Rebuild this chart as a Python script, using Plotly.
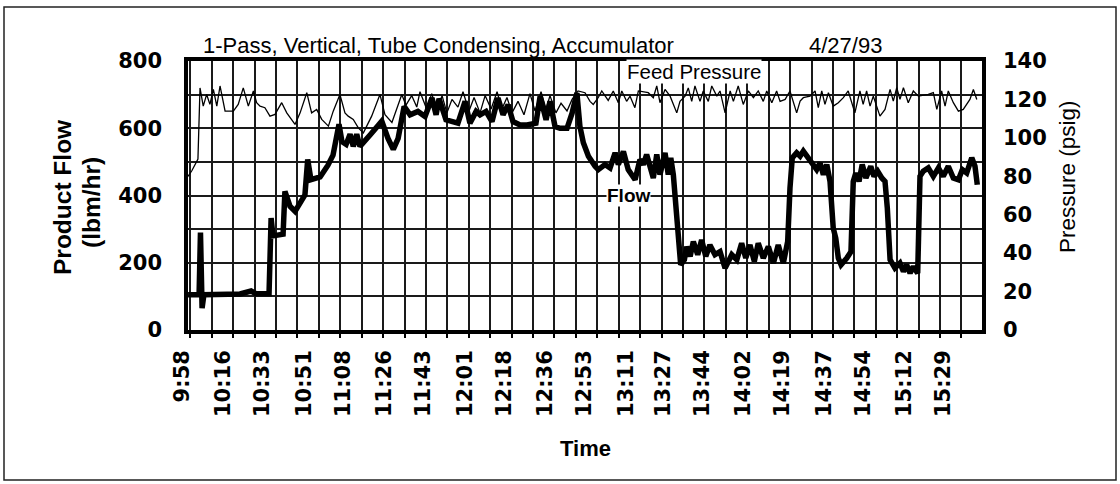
import plotly.graph_objects as go

# ---------------- data ----------------
time_labels = ["9:58", "10:16", "10:33", "10:51", "11:08", "11:26", "11:43", "12:01",
               "12:18", "12:36", "12:53", "13:11", "13:27", "13:44", "14:02", "14:19",
               "14:37", "14:54", "15:12", "15:29"]

# minutes after 9:58
flow_minutes = [2.8, 7.6, 8.2, 8.9, 9.7, 25.4, 30.2, 32.3, 38.0, 38.9, 39.7, 44.1, 44.9, 47.1,
                49.3, 53.6, 54.8, 56.2, 60.2, 63.6, 65.8, 68.4, 69.7, 71.5, 73.2, 74.6, 76.1,
                77.5, 81.9, 87.0, 89.7, 92.0, 94.1, 95.4, 96.7, 99.3, 102.7, 105.8, 108.8,
                110.6, 111.9, 114.9, 117.5, 120.1, 123.2, 125.3, 128.0, 129.7, 132.3, 134.9,
                137.5, 139.7, 141.9, 144.0, 147.1, 150.1, 154.0, 155.8, 158.4, 160.1, 162.3,
                164.5, 167.5, 169.7, 171.8, 173.1, 174.6, 176.8, 179.7, 181.1, 184.0, 186.2,
                188.4, 189.8, 192.0, 194.1, 197.1, 199.2, 200.7, 202.1, 205.0, 206.5, 207.9,
                210.1, 211.5, 212.6, 213.7, 215.2, 216.2, 216.9, 218.5, 219.5, 221.0, 222.4,
                224.3, 226.0, 227.8, 229.6, 231.8, 234.0, 236.2, 239.1, 241.3, 243.4, 245.2,
                247.0, 248.9, 250.6, 252.8, 255.0, 257.2, 259.3, 261.5, 263.4, 264.4, 265.4,
                267.3, 268.8, 270.2, 271.7, 273.8, 276.0, 277.5, 278.9, 280.4, 281.8, 283.2,
                284.3, 285.4, 286.6, 289.1, 290.9, 291.9, 293.0, 294.4, 295.8, 297.4, 299.5,
                300.9, 302.5, 304.3, 305.7, 306.7, 307.9, 310.0, 312.2, 313.7, 315.1, 316.6,
                318.0, 319.9, 320.9, 322.3, 324.5, 326.7, 328.9, 331.0, 333.2, 335.4, 337.6,
                339.3, 341.2, 343.4, 344.8, 345.8]
flow_lbm_hr = [105, 105, 290, 65, 105, 107, 116, 108, 108, 333, 280, 285, 412, 368,
               353, 402, 507, 447, 455, 490, 520, 612, 560, 552, 582, 546, 582,
               546, 580, 621, 570, 537, 570, 620, 665, 640, 650, 635, 690,
               640, 688, 625, 620, 615, 680, 615, 650, 640, 650, 620,
               690, 640, 670, 620, 610, 610, 615, 695, 625, 680, 605,
               600, 600, 645, 705, 606, 557, 517, 487, 477, 492, 482,
               527, 492, 531, 477, 447, 507, 492, 522, 452, 522, 462,
               527, 462, 512, 462, 343, 233, 194, 209, 248, 219, 263,
               224, 268, 219, 253, 224, 233, 184, 224, 209, 258, 214,
               253, 204, 258, 214, 248, 199, 253, 199, 263, 422, 512,
               527, 517, 532, 517, 502, 477, 497, 462, 492, 442, 303,
               273, 214, 194, 214, 233, 442, 467, 442, 492, 452, 487,
               457, 472, 452, 442, 363, 209, 184, 199, 174, 194, 169,
               189, 169, 457, 472, 482, 457, 482, 457, 487, 452, 447,
               477, 467, 512, 487, 432]

pressure_minutes = [2.8, 4.5, 7.1, 8.0, 9.4, 10.9, 12.3, 13.8, 15.3, 16.7, 18.9, 22.5, 24.6,
                    26.8, 29.0, 31.2, 32.6, 34.1, 36.2, 38.4, 40.6, 43.5, 45.7, 49.3, 51.5,
                    54.4, 56.5, 58.7, 60.9, 63.8, 65.9, 68.8, 71.0, 72.4, 74.6, 76.8, 79.0,
                    82.6, 86.2, 88.4, 91.4, 95.7, 97.5, 100.0, 102.2, 103.6, 106.5, 108.7,
                    111.0, 113.2, 115.3, 117.5, 120.1, 122.3, 124.9, 127.1, 129.7, 131.9,
                    134.5, 137.1, 139.2, 141.4, 143.6, 146.2, 148.8, 151.4, 153.6, 156.2,
                    158.4, 160.1, 162.7, 164.9, 167.5, 169.7, 172.3, 175.3, 177.5, 178.9,
                    181.1, 182.6, 185.4, 187.6, 189.8, 191.3, 193.4, 194.9, 197.0, 198.5,
                    202.8, 205.0, 206.5, 207.9, 210.1, 212.3, 215.2, 216.6, 218.8, 220.2,
                    221.7, 223.1, 225.3, 226.7, 228.9, 230.4, 232.6, 234.0, 236.2, 238.4,
                    239.8, 241.9, 244.1, 246.3, 248.5, 250.6, 252.8, 254.3, 256.5, 258.6,
                    260.1, 262.3, 264.4, 265.8, 267.3, 268.8, 270.2, 273.1, 275.3, 276.7,
                    278.2, 279.6, 281.1, 283.2, 285.4, 287.6, 289.7, 292.6, 294.8, 296.2,
                    297.7, 299.2, 300.6, 303.5, 305.7, 307.9, 309.3, 310.8, 312.2, 313.7,
                    315.8, 318.0, 320.2, 324.5, 326.7, 328.2, 330.3, 331.8, 333.2, 335.4,
                    337.6, 339.7, 342.6, 344.1, 345.6]
pressure_psig = [80, 83, 89, 126, 116.5, 122.6, 117.4, 125.2, 116.5, 127, 113.9, 113.9, 117.4,
                 126, 116.5, 124.4, 118.3, 116.5, 115.7, 111.3, 112.2, 118.3, 113.0, 107.0, 113.0,
                 123.5, 113.0, 114.8, 109.6, 106.1, 113.9, 122.6, 113.0, 111.3, 109.6, 105.2, 102.6,
                 111.3, 122.6, 112, 108, 122.6, 117, 122, 116, 124, 115, 123,
                 114, 122, 113, 120, 116, 124, 114, 121, 113, 122,
                 115, 124, 115, 121, 113, 119, 112, 123, 114, 124,
                 115, 122, 113, 118, 114, 120, 124.4, 123.5, 119, 117.4,
                 121, 124.4, 119.5, 124.4, 118.3, 124.4, 119, 121.7, 115.7, 124.4,
                 123.5, 120.9, 127, 118.3, 125.2, 121.7, 113.0, 119, 121.7, 126,
                 119, 127, 119, 124.4, 119, 127, 121.7, 124.4, 113.0, 124.4,
                 119, 127, 117.4, 124.4, 120.9, 124.4, 119, 124.4, 118.3, 124.4,
                 119, 120, 124.4, 118.3, 113.0, 119.1, 120.9, 121.7, 124.4, 115.7,
                 124.4, 117.4, 123.5, 116.5, 118.3, 120.9, 124.4, 113.0, 124.4, 117.4,
                 124.4, 116.5, 121.7, 111.3, 114.8, 125.2, 119.1, 126.1, 120.0, 126.1,
                 118.3, 124.4, 121.7, 122.6, 123.5, 114.8, 124.4, 116.5, 124.4, 118.3,
                 113.9, 114.8, 120, 125.2, 120]

# ---------------- layout constants ----------------
W, H = 1120, 484
ML, MR, MT, MB = 188, 138, 61, 154
PW, PH = W - ML - MR, H - MT - MB
X_RANGE = [2.78, 347.85]
PX_PER_MIN = PW / (X_RANGE[1] - X_RANGE[0])
LABEL_OFFSET_MIN = 4.0
GRID0, GRID_STEP = 13.08, 9.31


def to_minutes(lbl):
    h, m = lbl.split(":")
    return int(h) * 60 + int(m)


t0 = to_minutes(time_labels[0])
label_minutes = [to_minutes(l) - t0 + LABEL_OFFSET_MIN for l in time_labels]


def xp(px):
    return (px - ML) / PW


def yp(py):
    return 1 - (py - MT) / PH


GRID_COLOR = "#1a1a1a"
TICK_FONT = dict(family="DejaVu Sans", size=21, color="black", weight="bold")

fig = go.Figure()
fig.add_trace(go.Scatter(x=flow_minutes, y=flow_lbm_hr, mode="lines", name="Flow",
                         line=dict(color="black", width=5.5), yaxis="y"))
fig.add_trace(go.Scatter(x=pressure_minutes, y=pressure_psig, mode="lines",
                         name="Feed Pressure", line=dict(color="black", width=1.3),
                         yaxis="y2"))

fig.update_layout(
    width=W, height=H,
    margin=dict(l=ML, r=MR, t=MT, b=MB),
    paper_bgcolor="white", plot_bgcolor="white",
    showlegend=False,
    xaxis=dict(
        range=X_RANGE, tickmode="array", tickvals=label_minutes, ticktext=time_labels,
        tickangle=-90, tickfont=TICK_FONT, ticklabelshift=-round(LABEL_OFFSET_MIN * PX_PER_MIN),
        ticklabelstandoff=8, ticks="",
        showgrid=False, zeroline=False,
        showline=True, mirror=True, linecolor="black", linewidth=3.5,
        minor=dict(tickmode="linear", tick0=GRID0, dtick=GRID_STEP, showgrid=True,
                   gridcolor=GRID_COLOR, gridwidth=1.8, ticks="outside", ticklen=4,
                   tickcolor="black", tickwidth=1.5),
    ),
    yaxis=dict(
        range=[0, 800], dtick=200, tickfont=TICK_FONT, ticks="", ticklabelstandoff=18,
        showgrid=True, gridcolor=GRID_COLOR, gridwidth=1.8, zeroline=False,
        showline=True, mirror=True, linecolor="black", linewidth=3.5,
        minor=dict(dtick=100, showgrid=True, gridcolor=GRID_COLOR, gridwidth=1.8),
    ),
    yaxis2=dict(
        range=[0, 140], dtick=20, overlaying="y", side="right", tickfont=TICK_FONT,
        ticks="", ticklabelstandoff=13, showgrid=False, zeroline=False,
        showline=True, linecolor="black", linewidth=3.5,
    ),
)

ann = []
ann.append(dict(text="1-Pass, Vertical, Tube Condensing, Accumulator", x=xp(201), y=yp(46),
                xanchor="left", yanchor="middle",
                font=dict(family="Liberation Sans", size=22, color="black")))
ann.append(dict(text="4/27/93", x=xp(845), y=yp(45), xanchor="center", yanchor="middle",
                font=dict(family="Liberation Sans", size=22, color="black")))
ann.append(dict(text="Feed Pressure", x=xp(694), y=yp(71), xanchor="center", yanchor="middle",
                bgcolor="white", borderpad=0,
                font=dict(family="Liberation Sans", size=20.5, color="black")))
ann.append(dict(text="<b>Flow</b>", x=xp(628), y=yp(195), xanchor="center", yanchor="middle",
                bgcolor="white", borderpad=0,
                font=dict(family="Liberation Sans", size=19, color="black")))
ann.append(dict(text="<b>Product Flow</b>", x=xp(62), y=yp(197), textangle=-90,
                xanchor="center", yanchor="middle",
                font=dict(family="Liberation Sans", size=24.5, color="black")))
ann.append(dict(text="<b>(lbm/hr)</b>", x=xp(91), y=yp(203), textangle=-90,
                xanchor="center", yanchor="middle",
                font=dict(family="Liberation Sans", size=24.5, color="black")))
ann.append(dict(text="Pressure (psig)", x=xp(1067), y=yp(177), textangle=-90,
                xanchor="center", yanchor="middle",
                font=dict(family="Liberation Sans", size=22.5, color="black")))
ann.append(dict(text="<b>Time</b>", x=xp(585), y=yp(448), xanchor="center", yanchor="middle",
                font=dict(family="Liberation Sans", size=22, color="black")))
for a in ann:
    a.update(xref="paper", yref="paper", showarrow=False)
fig.update_layout(annotations=ann)

# outer frame of the page
fig.add_shape(type="rect", xref="paper", yref="paper",
              x0=xp(4), x1=xp(1116), y0=yp(480), y1=yp(7),
              line=dict(color="#222", width=1.5), fillcolor="rgba(0,0,0,0)", layer="below")

# the page is photographed at its top-left corner: drop the browser's default body margin
fig.write_html("out.html",
               config={"displayModeBar": False},
               post_script="document.body.style.margin='0';document.body.style.overflow='hidden';")
